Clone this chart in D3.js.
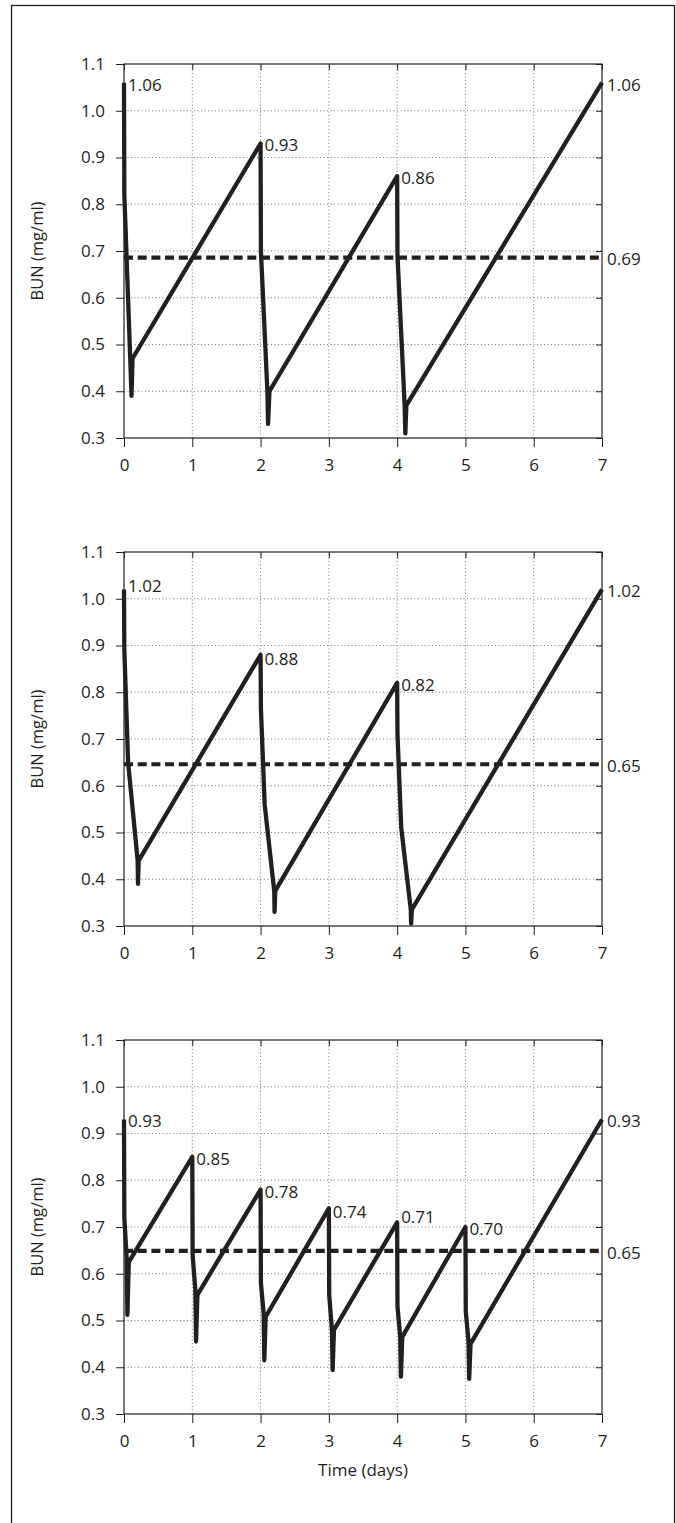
<!DOCTYPE html>
<html>
<head>
<meta charset="utf-8">
<script src="https://cdn.jsdelivr.net/npm/d3@7/dist/d3.min.js"></script>
<style>
  body { margin: 0; background: #fff; }
  text { font-family: "Open Sans", sans-serif; fill: #231f20; }
</style>
</head>
<body>
<script>
// data
var days = [0, 1, 2, 3, 4, 5, 6, 7];
var bunTicks = [0.3, 0.4, 0.5, 0.6, 0.7, 0.8, 0.9, 1.0, 1.1];

// panel A: 3 sessions / week
var timeA = [0, 0.005, 0.09, 0.11, 0.125, 2.0, 2.005, 2.10, 2.11, 2.13, 4.0, 4.005, 4.11, 4.12, 4.135, 7.0];
var bunA  = [1.06, 0.82, 0.475, 0.39, 0.47, 0.93, 0.70, 0.40, 0.33, 0.40, 0.86, 0.69, 0.37, 0.31, 0.37, 1.06];
var peakTimesA = [0, 2, 4];
var peakBunA = [1.06, 0.93, 0.86];
var meanA = 0.686, meanLabelA = "0.69";

// panel B: 3 longer sessions / week
var timeB = [0, 0.005, 0.06, 0.2, 0.205, 0.215, 2.0, 2.005, 2.06, 2.2, 2.205, 2.215, 4.0, 4.005, 4.06, 4.2, 4.205, 4.215, 7.0];
var bunB  = [1.02, 0.89, 0.65, 0.44, 0.39, 0.44, 0.88, 0.765, 0.56, 0.375, 0.33, 0.375, 0.82, 0.71, 0.51, 0.335, 0.305, 0.335, 1.02];
var peakTimesB = [0, 2, 4];
var peakBunB = [1.02, 0.88, 0.82];
var meanB = 0.646, meanLabelB = "0.65";

// panel C: 6 daily sessions
var timeC = [0, 0.005, 0.04, 0.05, 0.07,
             1.0, 1.005, 1.045, 1.055, 1.075,
             2.0, 2.005, 2.045, 2.055, 2.075,
             3.0, 3.005, 3.045, 3.055, 3.075,
             4.0, 4.005, 4.045, 4.055, 4.075,
             5.0, 5.005, 5.045, 5.055, 5.075, 7.0];
var bunC  = [0.93, 0.72, 0.63, 0.512, 0.625,
             0.85, 0.64, 0.565, 0.455, 0.555,
             0.78, 0.58, 0.515, 0.415, 0.508,
             0.74, 0.555, 0.48, 0.394, 0.48,
             0.71, 0.53, 0.465, 0.38, 0.465,
             0.70, 0.52, 0.455, 0.375, 0.45, 0.93];
var peakTimesC = [0, 1, 2, 3, 4, 5];
var peakBunC = [0.93, 0.85, 0.78, 0.74, 0.71, 0.70];
var meanC = 0.649, meanLabelC = "0.65";

var ink = "#231f20";
var fontSize = "17px";

var svg = d3.select("body")
    .append("svg")
    .attr("width", 676)
    .attr("height", 1523);

// outer frame
svg.append("rect")
    .attr("x", 11.5).attr("y", 5.5)
    .attr("width", 663).attr("height", 1540)
    .attr("fill", "none")
    .attr("stroke", ink)
    .attr("stroke-width", 1.3);

var x = d3.scaleLinear().domain([0, 7]).range([124, 602]);

function drawPanel(top, time, bun, peakTimes, peakBun, mean, meanLabel, withTitle, nudge) {
    var y = d3.scaleLinear().domain([0.3, 1.1]).range([top + 374, top]);
    var g = svg.append("g");

    // grid
    g.selectAll(".hgrid")
        .data(bunTicks.slice(1, -1))
        .enter().append("line")
        .attr("x1", x(0)).attr("x2", x(7))
        .attr("y1", function (d) { return y(d); })
        .attr("y2", function (d) { return y(d); })
        .attr("stroke", "#777").attr("stroke-width", 1)
        .attr("stroke-dasharray", "1,2.5");
    g.selectAll(".vgrid")
        .data(days.slice(1, -1))
        .enter().append("line")
        .attr("y1", y(0.3)).attr("y2", y(1.1))
        .attr("x1", function (d) { return x(d); })
        .attr("x2", function (d) { return x(d); })
        .attr("stroke", "#777").attr("stroke-width", 1)
        .attr("stroke-dasharray", "1,2.5");

    // axes
    g.append("g")
        .attr("transform", "translate(" + x(0) + ",0)")
        .call(d3.axisLeft(y).tickValues(bunTicks).tickFormat(d3.format(".1f"))
            .tickSize(8).tickPadding(11).tickSizeOuter(0));
    g.append("g")
        .attr("transform", "translate(0," + y(0.3) + ")")
        .call(d3.axisBottom(x).tickValues(days).tickFormat(d3.format("d"))
            .tickSize(9).tickPadding(12).tickSizeOuter(0));
    g.append("g")
        .attr("transform", "translate(" + x(7) + ",0)")
        .call(d3.axisRight(y).tickValues(bunTicks).tickFormat("")
            .tickSize(-6).tickSizeOuter(0));
    g.append("g")
        .attr("transform", "translate(0," + y(1.1) + ")")
        .call(d3.axisTop(x).tickValues(days).tickFormat("")
            .tickSize(-6).tickSizeOuter(0));
    g.selectAll(".domain").remove();
    g.selectAll(".tick line").attr("stroke", ink);
    g.selectAll(".tick text")
        .style("font-family", "'Open Sans', sans-serif")
        .style("font-size", fontSize)
        .attr("fill", ink);

    g.append("rect")
        .attr("x", x(0)).attr("y", y(1.1))
        .attr("width", x(7) - x(0)).attr("height", y(0.3) - y(1.1))
        .attr("fill", "none").attr("stroke", ink).attr("stroke-width", 1.2);

    // mean level
    g.append("line")
        .attr("x1", x(0)).attr("x2", x(7))
        .attr("y1", y(mean)).attr("y2", y(mean))
        .attr("stroke", ink).attr("stroke-width", 4.2)
        .attr("stroke-dasharray", "9,4.7");

    // BUN curve
    var pts = time.map(function (t, i) { return [t, bun[i]]; });
    g.append("path")
        .datum(pts)
        .attr("d", d3.line().x(function (d) { return x(d[0]); }).y(function (d) { return y(d[1]); }))
        .attr("fill", "none")
        .attr("stroke", ink)
        .attr("stroke-width", 4.3)
        .attr("stroke-linejoin", "round");

    // peak labels
    g.selectAll(".peak")
        .data(peakTimes)
        .enter().append("text")
        .attr("x", function (d) { return x(d) + 4; })
        .attr("y", function (d, i) { return y(peakBun[i]) + 2 + (nudge[i] || 0); })
        .attr("dy", "0.35em")
        .style("font-size", fontSize)
        .text(function (d, i) { return peakBun[i].toFixed(2); });

    // right-hand labels
    g.selectAll(".rlab")
        .data([[bun[bun.length - 1], bun[bun.length - 1].toFixed(2)], [mean, meanLabel]])
        .enter().append("text")
        .attr("x", x(7) + 5)
        .attr("y", function (d) { return y(d[0]) + 2; })
        .attr("dy", "0.35em")
        .style("font-size", fontSize)
        .text(function (d) { return d[1]; });

    // y title
    g.append("text")
        .attr("transform", "translate(37," + (y(0.7)) + ") rotate(-90)")
        .attr("text-anchor", "middle")
        .attr("dy", "0.35em")
        .style("font-size", "16.5px")
        .text("BUN (mg/ml)");

    if (withTitle) {
        g.append("text")
            .attr("x", (x(0) + x(7)) / 2)
            .attr("y", y(0.3) + 56)
            .attr("text-anchor", "middle")
            .attr("dy", "0.35em")
            .style("font-size", fontSize)
            .text("Time (days)");
    }
}

drawPanel(64, timeA, bunA, peakTimesA, peakBunA, meanA, meanLabelA, false, []);
drawPanel(552, timeB, bunB, peakTimesB, peakBunB, meanB, meanLabelB, false, [-5, 2, 0]);
drawPanel(1040, timeC, bunC, peakTimesC, peakBunC, meanC, meanLabelC, true, [0, 0, 0, 2, -7, 0]);
</script>
</body>
</html>
